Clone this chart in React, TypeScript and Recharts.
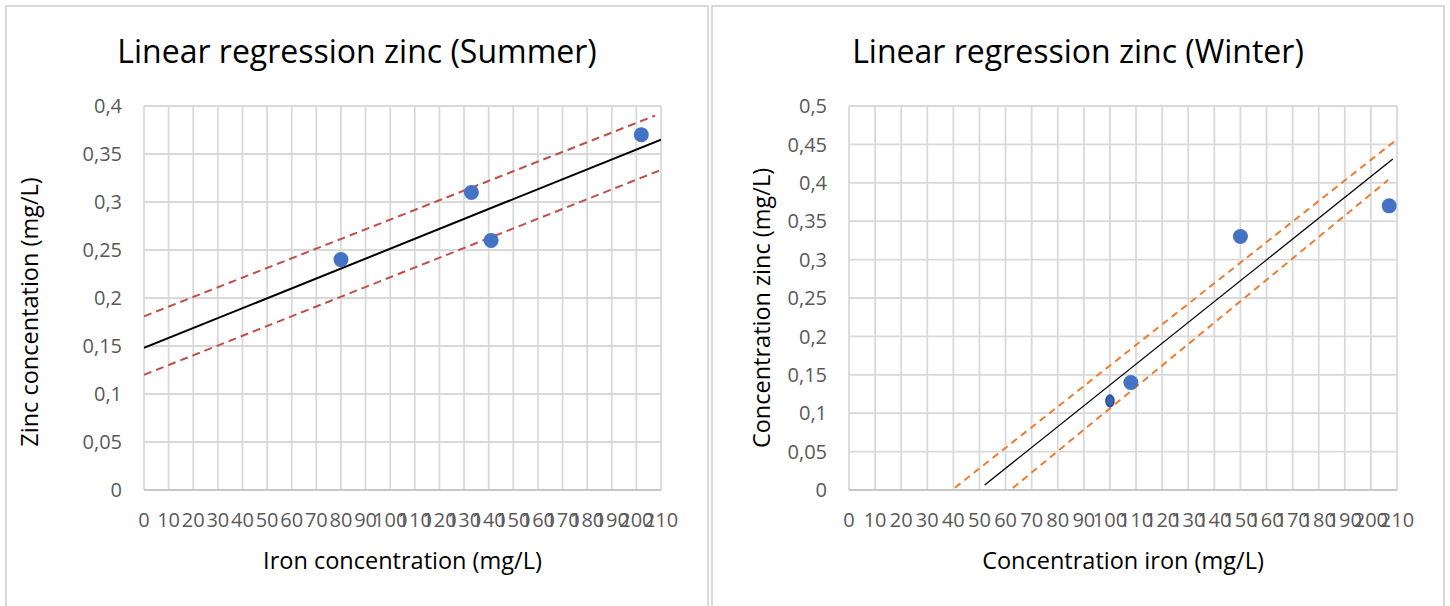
import React from 'react';
import { ComposedChart, XAxis, YAxis, CartesianGrid, Line, Scatter } from 'recharts';

// ---- data ----
const xTicks = [0, 10, 20, 30, 40, 50, 60, 70, 80, 90, 100, 110, 120, 130, 140, 150, 160, 170, 180, 190, 200, 210];
const summerYTicks = [0, 0.05, 0.1, 0.15, 0.2, 0.25, 0.3, 0.35, 0.4];
const winterYTicks = [0, 0.05, 0.1, 0.15, 0.2, 0.25, 0.3, 0.35, 0.4, 0.45, 0.5];

const summerIron = [80, 133, 141, 202];
const summerZinc = [0.24, 0.31, 0.26, 0.37];
const summerFitX = [0, 210];
const summerFitY = [0.148, 0.365];
const summerUpperX = [0, 207.6];
const summerUpperY = [0.181, 0.39];
const summerLowerX = [0, 209.6];
const summerLowerY = [0.12, 0.333];

const winterIron = [108, 150, 207];
const winterZinc = [0.14, 0.33, 0.37];
const winterSmallIron = [100];
const winterSmallZinc = [0.116];
const winterFitX = [52, 208.4];
const winterFitY = [0.0065, 0.431];
const winterUpperX = [40.6, 210];
const winterUpperY = [0.003, 0.4566];
const winterLowerX = [62.8, 206.6];
const winterLowerY = [0.0026, 0.4036];

const zip = (xs: number[], ys: number[]) => xs.map((x, i) => ({ x, y: ys[i] }));

const FONT = "'Open Sans', 'Liberation Sans', Arial, sans-serif";
const fmt = (v: number) => String(v).replace('.', ',');

const SmallDot = (props: any) => {
  const { cx, cy } = props;
  if (cx == null || cy == null) return <g />;
  return <ellipse cx={cx} cy={cy} rx={4} ry={5.8} fill="#3b63ad" stroke="#2a4d8f" strokeWidth={1.5} />;
};

type PanelProps = {
  left: number;
  width: number;
  marginLeft: number;
  marginRight: number;
  yMax: number;
  yTicks: number[];
  points: { x: number; y: number }[];
  smallPoints?: { x: number; y: number }[];
  fit: { x: number; y: number }[];
  upper: { x: number; y: number }[];
  lower: { x: number; y: number }[];
  fitWidth: number;
  bandColor: string;
  dash: string;
};

const Panel = (p: PanelProps) => (
  <div style={{ position: 'absolute', left: p.left, top: 0 }}>
    <ComposedChart
      width={p.width}
      height={606}
      margin={{ top: 106, right: p.marginRight, bottom: 36, left: p.marginLeft }}
    >
      <CartesianGrid stroke="#d9d9d9" strokeWidth={1.8} />
      <XAxis
        type="number"
        dataKey="x"
        domain={[0, 210]}
        ticks={xTicks}
        interval={0}
        allowDataOverflow
        height={80}
        tickSize={0}
        tickMargin={23}
        axisLine={{ stroke: '#c8c8c8', strokeWidth: 1.8 }}
        tick={{ fill: '#595959', fontSize: 20, fontFamily: FONT }}
      />
      <YAxis
        type="number"
        dataKey="y"
        domain={[0, p.yMax]}
        ticks={p.yTicks}
        interval={0}
        allowDataOverflow
        width={130}
        tickSize={0}
        tickMargin={22}
        axisLine={false}
        tickFormatter={fmt}
        tick={{ fill: '#595959', fontSize: 20, fontFamily: FONT }}
      />
      <Line data={p.upper} dataKey="y" type="linear" stroke={p.bandColor} strokeWidth={2} strokeDasharray={p.dash} dot={false} activeDot={false} isAnimationActive={false} />
      <Line data={p.lower} dataKey="y" type="linear" stroke={p.bandColor} strokeWidth={2} strokeDasharray={p.dash} dot={false} activeDot={false} isAnimationActive={false} />
      <Line data={p.fit} dataKey="y" type="linear" stroke="#000000" strokeWidth={p.fitWidth} dot={false} activeDot={false} isAnimationActive={false} />
      <Scatter data={p.points} dataKey="y" fill="#4472c4" shape={(s: any) => <circle cx={s.cx} cy={s.cy} r={7.5} fill="#4472c4" />} isAnimationActive={false} />
      {p.smallPoints ? (
        <Scatter data={p.smallPoints} dataKey="y" fill="#3b63ad" shape={SmallDot} isAnimationActive={false} />
      ) : null}
    </ComposedChart>
  </div>
);

export default function App() {
  return (
    <div style={{ position: 'absolute', left: 0, top: 0, width: 1450, height: 606, background: '#ffffff', overflow: 'hidden', fontFamily: FONT }}>
      <div style={{ position: 'absolute', left: 5, top: 5, width: 700, height: 640, border: '2px solid #d9d9d9' }} />
      <div style={{ position: 'absolute', left: 711, top: 5, width: 730, height: 640, border: '2px solid #d9d9d9' }} />
      <Panel
        left={0}
        width={700}
        marginLeft={14}
        marginRight={39}
        yMax={0.4}
        yTicks={summerYTicks}
        points={zip(summerIron, summerZinc)}
        fit={zip(summerFitX, summerFitY)}
        upper={zip(summerUpperX, summerUpperY)}
        lower={zip(summerLowerX, summerLowerY)}
        fitWidth={2}
        bandColor="#c0504d"
        dash="8 5"
      />
      <Panel
        left={700}
        width={750}
        marginLeft={19}
        marginRight={53}
        yMax={0.5}
        yTicks={winterYTicks}
        points={zip(winterIron, winterZinc)}
        smallPoints={zip(winterSmallIron, winterSmallZinc)}
        fit={zip(winterFitX, winterFitY)}
        upper={zip(winterUpperX, winterUpperY)}
        lower={zip(winterLowerX, winterLowerY)}
        fitWidth={1.3}
        bandColor="#ed7d31"
        dash="7 5"
      />
      <svg width={1450} height={606} style={{ position: 'absolute', left: 0, top: 0, pointerEvents: 'none' }}>
        <g fontFamily={FONT} fill="#000000">
          <text x={357} y={63} fontSize={32} textAnchor="middle">Linear regression zinc (Summer)</text>
          <text x={1078} y={63} fontSize={32} textAnchor="middle">Linear regression zinc (Winter)</text>
          <text x={402.5} y={569} fontSize={23.5} textAnchor="middle">Iron concentration (mg/L)</text>
          <text x={1123} y={569} fontSize={23.5} textAnchor="middle">Concentration iron (mg/L)</text>
          <text x={38} y={312} fontSize={23.5} textAnchor="middle" transform="rotate(-90, 38, 312)">Zinc concentation (mg/L)</text>
          <text x={770} y={308} fontSize={23.5} textAnchor="middle" transform="rotate(-90, 770, 308)">Concentration zinc (mg/L)</text>
        </g>
      </svg>
    </div>
  );
}
